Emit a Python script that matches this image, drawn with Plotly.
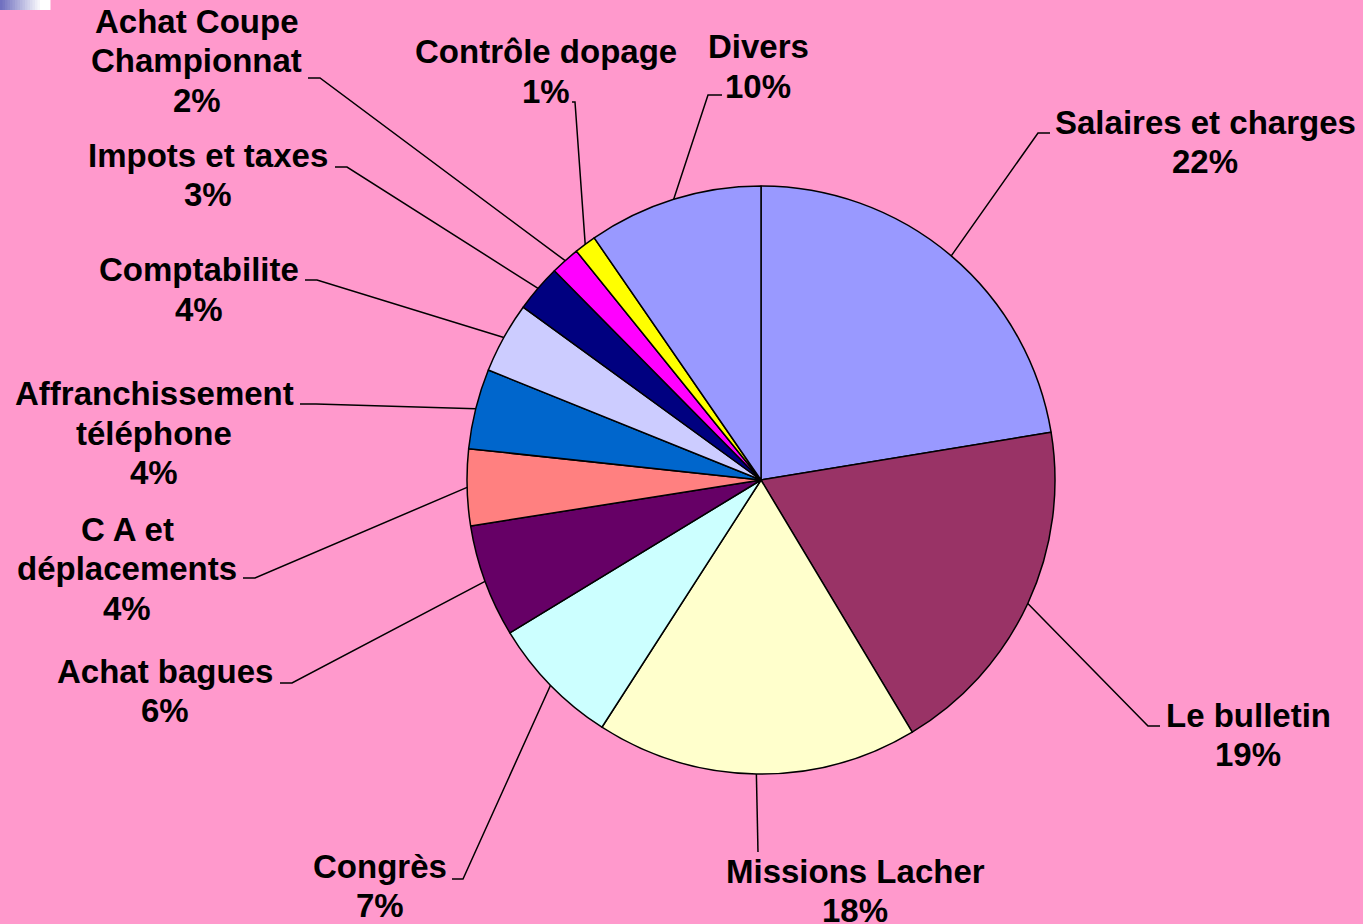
import math
import plotly.graph_objects as go

# ---- data ----
categories = ["Salaires et charges", "Le bulletin", "Missions Lacher", "Congrès",
              "Achat bagues", "C A et déplacements", "Affranchissement téléphone",
              "Comptabilite", "Impots et taxes", "Achat Coupe Championnat",
              "Contrôle dopage", "Divers"]
values = [22.4, 19.0, 17.7, 7.2, 6.2, 4.2, 4.4, 3.9, 2.6, 1.6, 1.2, 9.6]
label_lines = [["Salaires et charges"], ["Le bulletin"], ["Missions Lacher"], ["Congrès"],
               ["Achat bagues"], ["C A et", "déplacements"], ["Affranchissement", "téléphone"],
               ["Comptabilite"], ["Impots et taxes"], ["Achat Coupe", "Championnat"],
               ["Contrôle dopage"], ["Divers"]]
colors = ["#9999FF", "#993366", "#FFFFCC", "#CCFFFF", "#660066", "#FF8080",
          "#0066CC", "#CCCCFF", "#000080", "#FF00FF", "#FFFF00", "#9999FF"]

# ---- layout constants (pixels) ----
W, H = 1363, 924
CX, CY, R = 761, 480, 294
FS = 33
LINE_GAP = 39.4
BG = "#FF99CC"
# label block: centre x, first line middle y
label_pos = [(1205, 122.5), (1248, 715), (855, 871), (380, 866.5), (165, 671),
             (127, 529.5), (154, 394), (199, 270), (208, 155), (197, 21.5),
             (546, 52), (758, 46.7)]
# leader line: elbow point, end point
leader = [((1038, 133), (1050, 133)), ((1148, 726), (1160, 726)),
          ((758, 852), (758, 852)), ((463, 879), (452, 879)),
          ((292, 683), (280, 683)), ((255, 578), (243, 578)),
          ((316, 404), (300, 404)), ((317, 280), (305, 280)),
          ((347, 167), (335, 167)), ((320, 78), (308, 78)),
          ((575, 102), (572, 102)), ((708, 95), (722, 95))]


def px(x):
    return x / W


def py(y):
    return 1 - y / H


fig = go.Figure(go.Pie(
    labels=categories, values=values, sort=False, direction="clockwise", rotation=0,
    marker=dict(colors=colors, line=dict(color="black", width=1.5)),
    textinfo="none", hoverinfo="label+percent",
    domain=dict(x=[px(CX - R), px(CX + R)], y=[py(CY + R), py(CY - R)]),
))

total = sum(values)
annotations = []
shapes = []
cum = 0.0
for i, v in enumerate(values):
    mid = (cum + v / 2) / total * 2 * math.pi
    cum += v
    sx = CX + R * math.sin(mid)
    sy = CY - R * math.cos(mid)
    (ex, ey), (tx, ty) = leader[i]
    shapes.append(dict(type="path", xref="paper", yref="paper",
                       path=f"M {px(sx)},{py(sy)} L {px(ex)},{py(ey)} L {px(tx)},{py(ty)}",
                       line=dict(color="black", width=1.5)))
    pct = int(100 * v / total + 0.5)
    lines = label_lines[i] + [f"{pct}%"]
    lx, ly = label_pos[i]
    for k, t in enumerate(lines):
        annotations.append(dict(x=px(lx), y=py(ly + k * LINE_GAP), xref="paper", yref="paper",
                                text=f"<b>{t}</b>", showarrow=False, xanchor="center",
                                yanchor="middle",
                                font=dict(family="Liberation Sans, Arial, sans-serif",
                                          size=FS, color="black")))

# small gradient decoration at top-left
n = 20
c0 = (0x70, 0x70, 0xC0)
for j in range(n):
    f = min(1.0, j / (n * 0.8))
    c = tuple(int(a + (255 - a) * f) for a in c0)
    shapes.append(dict(type="rect", xref="paper", yref="paper",
                       x0=px(j * 50 / n), x1=px((j + 1) * 50 / n + 0.5),
                       y0=py(10), y1=py(0), line=dict(width=0),
                       fillcolor=f"rgb{c}"))

fig.update_layout(width=W, height=H, margin=dict(l=0, r=0, t=0, b=0),
                  paper_bgcolor=BG, plot_bgcolor=BG, showlegend=False,
                  annotations=annotations, shapes=shapes)

fig.write_html("out.html", config={"displayModeBar": False},
               post_script="document.body.style.margin='0';document.body.style.overflow='hidden';")
